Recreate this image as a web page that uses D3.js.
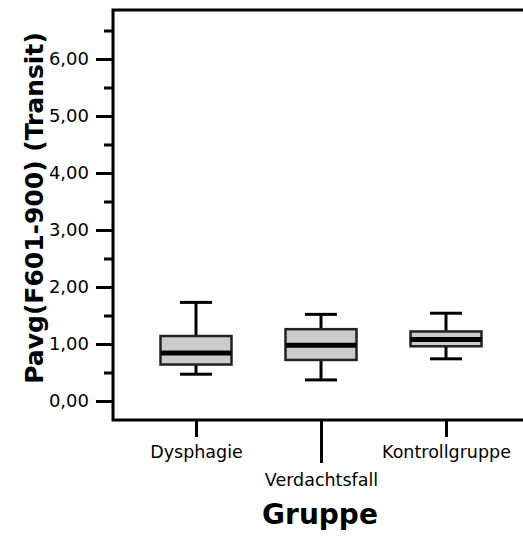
<!DOCTYPE html>
<html>
<head>
<meta charset="utf-8">
<script src="https://cdn.jsdelivr.net/npm/d3@7"></script>
<style>
  body { margin: 0; background: #fff; }
  svg { display: block; font-family: "DejaVu Sans", Verdana, sans-serif; }
</style>
</head>
<body>
<div id="chart"></div>
<script>
// data
var groups = ["Dysphagie", "Verdachtsfall", "Kontrollgruppe"];
var whiskerLow = [0.47, 0.37, 0.74];
var q1 = [0.64, 0.72, 0.96];
var median = [0.84, 0.98, 1.08];
var q3 = [1.14, 1.26, 1.22];
var whiskerHigh = [1.73, 1.52, 1.54];
var majorTicks = [0, 1, 2, 3, 4, 5, 6];
var minorTicks = [0.5, 1.5, 2.5, 3.5, 4.5, 5.5, 6.5];

var svgWidth = 523;
var svgHeight = 536;

var plot = { left: 113, top: 10, bottom: 420, right: 523 };

var svg = d3.select("#chart")
  .append("svg")
  .attr("width", svgWidth)
  .attr("height", svgHeight);

var yScale = d3.scaleLinear()
  .domain([0, 6])
  .range([401, 59]);

var xScale = d3.scalePoint()
  .domain(groups)
  .range([196, 446]);

var boxes = groups.map(function(g, i) {
  return { name: g, lo: whiskerLow[i], q1: q1[i], med: median[i], q3: q3[i], hi: whiskerHigh[i] };
});

// minor y ticks
svg.append("g")
  .attr("transform", `translate(${plot.left},0)`)
  .call(d3.axisLeft(yScale).tickValues(minorTicks).tickSize(9).tickFormat(""))
  .call(g => g.select(".domain").remove())
  .selectAll("line").attr("stroke", "#000").attr("stroke-width", 3);

// major y ticks
var yAxis = svg.append("g")
  .attr("transform", `translate(${plot.left},0)`)
  .call(d3.axisLeft(yScale).tickValues(majorTicks).tickSize(17).tickPadding(7)
    .tickFormat(d => d3.format(".2f")(d).replace(".", ",")));
yAxis.select(".domain").remove();
yAxis.selectAll("line").attr("stroke", "#000").attr("stroke-width", 3);
yAxis.selectAll("text")
  .attr("font-size", "18px")
  .attr("font-family", "DejaVu Sans")
  .attr("fill", "#000");

// x ticks, middle one longer with staggered label
var xAxis = svg.append("g")
  .attr("transform", `translate(0,${plot.bottom})`)
  .call(d3.axisBottom(xScale).tickSize(17));
xAxis.select(".domain").remove();
xAxis.selectAll("line")
  .attr("stroke", "#000").attr("stroke-width", 3)
  .attr("y2", (d, i) => i === 1 ? 43 : 17);
xAxis.selectAll("text")
  .attr("font-size", "17.5px")
  .attr("font-family", "DejaVu Sans")
  .attr("fill", "#000")
  .attr("dy", null)
  .attr("y", (d, i) => i === 1 ? 66 : 38);

// frame
svg.append("path")
  .attr("d", `M${plot.right},${plot.top}H${plot.left}V${plot.bottom}H${plot.right}`)
  .attr("fill", "none")
  .attr("stroke", "#000")
  .attr("stroke-width", 3);

// boxplots
var boxWidth = 71;
var capWidth = 32;
var bg = svg.selectAll(".box")
  .data(boxes)
  .enter()
  .append("g")
  .attr("class", "box")
  .attr("transform", d => `translate(${xScale(d.name)},0)`);

bg.append("line")
  .attr("y1", d => yScale(d.hi)).attr("y2", d => yScale(d.q3))
  .attr("stroke", "#000").attr("stroke-width", 3);
bg.append("line")
  .attr("y1", d => yScale(d.q1)).attr("y2", d => yScale(d.lo))
  .attr("stroke", "#000").attr("stroke-width", 3);
bg.append("line")
  .attr("x1", -capWidth / 2).attr("x2", capWidth / 2)
  .attr("y1", d => yScale(d.hi)).attr("y2", d => yScale(d.hi))
  .attr("stroke", "#000").attr("stroke-width", 3);
bg.append("line")
  .attr("x1", -capWidth / 2).attr("x2", capWidth / 2)
  .attr("y1", d => yScale(d.lo)).attr("y2", d => yScale(d.lo))
  .attr("stroke", "#000").attr("stroke-width", 3);
bg.append("rect")
  .attr("x", -boxWidth / 2)
  .attr("width", boxWidth)
  .attr("y", d => yScale(d.q3))
  .attr("height", d => yScale(d.q1) - yScale(d.q3))
  .attr("fill", "#cccccc")
  .attr("stroke", "#222")
  .attr("stroke-width", 2.5);
bg.append("line")
  .attr("x1", -boxWidth / 2).attr("x2", boxWidth / 2)
  .attr("y1", d => yScale(d.med)).attr("y2", d => yScale(d.med))
  .attr("stroke", "#000").attr("stroke-width", 5);

// axis titles
svg.append("text")
  .attr("transform", "translate(43,208) rotate(-90)")
  .attr("text-anchor", "middle")
  .attr("font-size", "25px")
  .attr("font-weight", "bold")
  .text("Pavg(F601-900) (Transit)");

svg.append("text")
  .attr("x", 320)
  .attr("y", 524)
  .attr("text-anchor", "middle")
  .attr("font-size", "28px")
  .attr("font-weight", "bold")
  .text("Gruppe");
</script>
</body>
</html>
